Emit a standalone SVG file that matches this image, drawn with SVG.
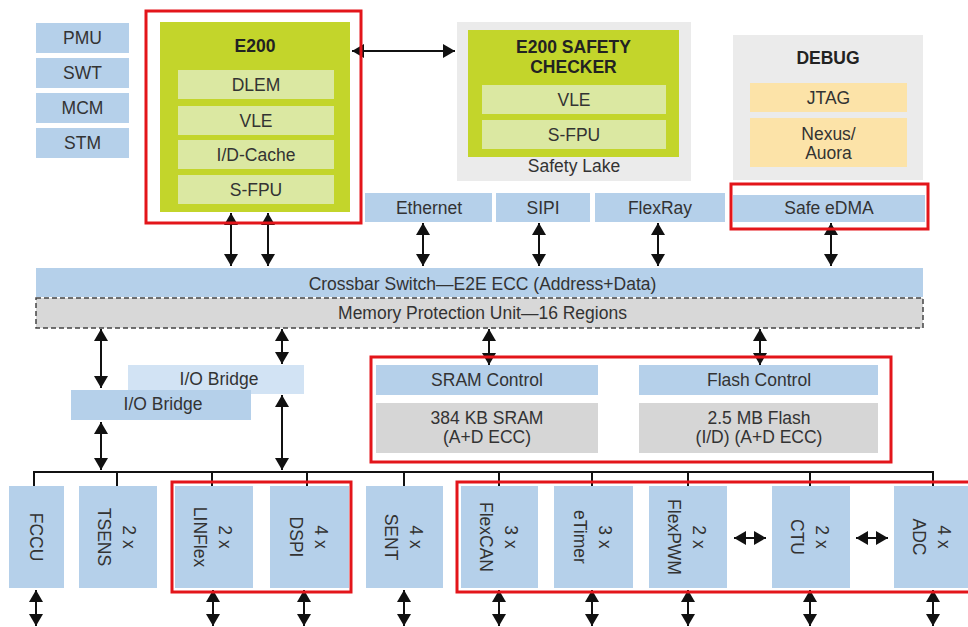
<svg xmlns="http://www.w3.org/2000/svg" width="968" height="627" viewBox="0 0 968 627">
<style>
text{font-family:"Liberation Sans",Arial,sans-serif;font-size:17.5px;fill:#333;text-anchor:middle}
.b{font-weight:bold;fill:#222}
.blue{fill:#b5d0ea}
.lblue{fill:#d2e3f4}
.green{fill:#c3d52b}
.lgreen{fill:#dbe8a2}
.lgray{fill:#ebebeb}
.gray{fill:#d6d6d6}
.yel{fill:#fce3a8}
.red{fill:none;stroke:#e3151a;stroke-width:3}
.ln{stroke:#111;stroke-width:2;fill:none}
.ar{stroke:#111;stroke-width:2;fill:none;marker-start:url(#ah);marker-end:url(#ah)}
</style>
<defs>
<marker id="ah" markerUnits="userSpaceOnUse" markerWidth="13" markerHeight="14" refX="12" refY="7" orient="auto-start-reverse">
<path d="M0,0 L12,7 L0,14 z" fill="#111"/>
</marker>
</defs>
<rect width="968" height="627" fill="#fff"/>

<g id="pmu"><rect class="blue" x="36" y="23" width="93" height="30"/><text x="82.5" y="44">PMU</text></g>
<g id="swt"><rect class="blue" x="36" y="58" width="93" height="30"/><text x="82.5" y="79">SWT</text></g>
<g id="mcm"><rect class="blue" x="36" y="93" width="93" height="30"/><text x="82.5" y="114">MCM</text></g>
<g id="stm"><rect class="blue" x="36" y="128" width="93" height="30"/><text x="82.5" y="149">STM</text></g>

<g id="e200">
<rect class="green" x="160" y="22" width="190" height="190"/>
<text class="b" x="255" y="52">E200</text>
<rect class="lgreen" x="178" y="70" width="156" height="29"/><text x="256" y="91">DLEM</text>
<rect class="lgreen" x="178" y="106" width="156" height="29"/><text x="256" y="127">VLE</text>
<rect class="lgreen" x="178" y="140" width="156" height="29"/><text x="256" y="161">I/D-Cache</text>
<rect class="lgreen" x="178" y="175" width="156" height="29"/><text x="256" y="196">S-FPU</text>
</g>

<g id="safety-lake">
<rect class="lgray" x="457" y="22" width="234" height="159"/>
<rect class="green" x="468" y="30" width="211" height="127"/>
<text class="b" x="573.5" y="52.5">E200 SAFETY</text>
<text class="b" x="573.5" y="72.5">CHECKER</text>
<rect class="lgreen" x="482" y="85" width="184" height="29"/><text x="574" y="106">VLE</text>
<rect class="lgreen" x="482" y="120" width="184" height="29"/><text x="574" y="141">S-FPU</text>
<text x="574" y="172">Safety Lake</text>
</g>

<g id="debug">
<rect class="lgray" x="733" y="35" width="190" height="145"/>
<text class="b" x="828" y="64">DEBUG</text>
<rect class="yel" x="750" y="83" width="157" height="29"/><text x="828.5" y="104">JTAG</text>
<rect class="yel" x="750" y="118" width="157" height="49"/><text x="828.5" y="140">Nexus/</text><text x="828.5" y="159">Auora</text>
</g>

<g id="ethernet"><rect class="blue" x="365" y="193" width="127" height="29"/><text x="429" y="214">Ethernet</text></g>
<g id="sipi"><rect class="blue" x="496" y="193" width="94" height="29"/><text x="543" y="214">SIPI</text></g>
<g id="flexray"><rect class="blue" x="595" y="193" width="130" height="29"/><text x="660" y="214">FlexRay</text></g>
<g id="safe-edma"><rect class="blue" x="733" y="195" width="192" height="27"/><text x="829" y="214">Safe eDMA</text></g>

<g id="crossbar"><rect class="blue" x="36" y="268" width="887" height="29"/><text x="482.5" y="290">Crossbar Switch—E2E ECC (Address+Data)</text></g>
<g id="mpu"><rect x="36" y="298" width="887" height="30" fill="#d8d8d8" stroke="#444" stroke-width="1.5" stroke-dasharray="5,3"/><text x="482.5" y="319">Memory Protection Unit—16 Regions</text></g>

<g id="io-bridge-2"><rect class="lblue" x="128" y="365" width="176" height="29"/><text x="219" y="385">I/O Bridge</text></g>
<g id="io-bridge-1"><rect class="blue" x="71" y="390" width="180" height="30"/><text x="163" y="410">I/O Bridge</text></g>

<g id="sram">
<rect class="blue" x="376" y="365" width="222" height="30"/><text x="487" y="386">SRAM Control</text>
<rect class="gray" x="376" y="403" width="222" height="50"/><text x="487" y="424">384 KB SRAM</text><text x="487" y="443">(A+D ECC)</text>
</g>
<g id="flash">
<rect class="blue" x="639" y="365" width="239" height="30"/><text x="759" y="386">Flash Control</text>
<rect class="gray" x="639" y="403" width="239" height="50"/><text x="759" y="424">2.5 MB Flash</text><text x="759" y="443">(I/D) (A+D ECC)</text>
</g>

<g id="fccu"><rect class="blue" x="9" y="486" width="55" height="102"/><text transform="translate(36.5,537) rotate(90)" y="6.3">FCCU</text></g>
<g id="tsens"><rect class="blue" x="79" y="486" width="78" height="102"/><g transform="translate(118,537) rotate(90)"><text y="-5">2 x</text><text y="20">TSENS</text></g></g>
<g id="linflex"><rect class="blue" x="175" y="486" width="78" height="102"/><g transform="translate(214,537) rotate(90)"><text y="-5">2 x</text><text y="20">LINFlex</text></g></g>
<g id="dspi"><rect class="blue" x="270" y="486" width="79" height="102"/><g transform="translate(309.5,537) rotate(90)"><text y="-5">4 x</text><text y="20">DSPI</text></g></g>
<g id="sent"><rect class="blue" x="366" y="486" width="77" height="102"/><g transform="translate(404.5,537) rotate(90)"><text y="-5">4 x</text><text y="20">SENT</text></g></g>
<g id="flexcan"><rect class="blue" x="461" y="486" width="77" height="102"/><g transform="translate(499.5,537) rotate(90)"><text y="-5">3 x</text><text y="20">FlexCAN</text></g></g>
<g id="etimer"><rect class="blue" x="554" y="486" width="79" height="102"/><g transform="translate(593.5,537) rotate(90)"><text y="-5">3 x</text><text y="20">eTimer</text></g></g>
<g id="flexpwm"><rect class="blue" x="649" y="486" width="78" height="102"/><g transform="translate(688,537) rotate(90)"><text y="-5">2 x</text><text y="20">FlexPWM</text></g></g>
<g id="ctu"><rect class="blue" x="772" y="486" width="78" height="102"/><g transform="translate(811,537) rotate(90)"><text y="-5">2 x</text><text y="20">CTU</text></g></g>
<g id="adc"><rect class="blue" x="894" y="486" width="80" height="102"/><g transform="translate(933,537) rotate(90)"><text y="-5">4 x</text><text y="20">ADC</text></g></g>

<g id="connectors">
<line class="ar" x1="352" y1="51" x2="455" y2="51"/>
<line class="ar" x1="231" y1="213" x2="231" y2="266"/>
<line class="ar" x1="268" y1="213" x2="268" y2="266"/>
<line class="ar" x1="423" y1="223" x2="423" y2="266"/>
<line class="ar" x1="539" y1="223" x2="539" y2="266"/>
<line class="ar" x1="658" y1="223" x2="658" y2="266"/>
<line class="ar" x1="831" y1="223" x2="831" y2="266"/>
<line class="ar" x1="101" y1="329" x2="101" y2="388"/>
<line class="ar" x1="282" y1="329" x2="282" y2="364"/>
<line class="ar" x1="489" y1="329" x2="489" y2="365"/>
<line class="ar" x1="760" y1="329" x2="760" y2="365"/>
<line class="ar" x1="101" y1="422" x2="101" y2="470"/>
<line class="ar" x1="282" y1="395" x2="282" y2="470"/>
<path class="ln" d="M34,486 V472 H933 V486 M117,472 V486 M212,472 V486 M307,472 V486 M404,472 V486 M499,472 V486 M592,472 V486 M688,472 V486 M810,472 V486"/>
<line class="ar" x1="36" y1="590" x2="36" y2="626"/>
<line class="ar" x1="213" y1="590" x2="213" y2="626"/>
<line class="ar" x1="304" y1="590" x2="304" y2="626"/>
<line class="ar" x1="404" y1="590" x2="404" y2="626"/>
<line class="ar" x1="499" y1="590" x2="499" y2="626"/>
<line class="ar" x1="592" y1="590" x2="592" y2="626"/>
<line class="ar" x1="688" y1="590" x2="688" y2="626"/>
<line class="ar" x1="810" y1="590" x2="810" y2="626"/>
<line class="ar" x1="933" y1="590" x2="933" y2="626"/>
<line class="ar" x1="734" y1="538" x2="766" y2="538"/>
<line class="ar" x1="856" y1="538" x2="888" y2="538"/>
</g>

<g id="highlights">
<rect class="red" x="146" y="11" width="215" height="212"/>
<rect class="red" x="731" y="184" width="197" height="45"/>
<rect class="red" x="371" y="357" width="520" height="105"/>
<rect class="red" x="172" y="482" width="179" height="110"/>
<rect class="red" x="457" y="482" width="515" height="110"/>
</g>
</svg>
